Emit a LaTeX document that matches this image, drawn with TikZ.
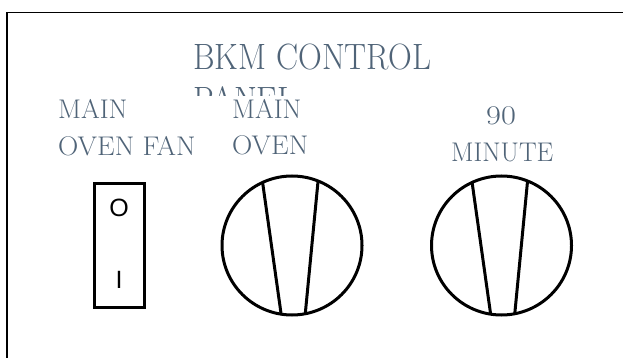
\documentclass[tikz,border=0pt]{standalone}
\usepackage{fontspec}
\usetikzlibrary{shapes.geometric}
\newfontfamily\swfont{Liberation Sans}
\definecolor{labelblue}{RGB}{80,100,120}
\tikzset{
  paneltitle/.style={anchor=base west, inner sep=0pt, text=labelblue, font=\fontsize{36.6}{40}\selectfont},
  panellabel/.style={anchor=base west, inner sep=0pt, text=labelblue, font=\fontsize{27}{30}\selectfont},
  dial/.style={ellipse, draw=black, line width=3pt, minimum width=140pt, minimum height=139pt, inner sep=0pt, outer sep=0pt},
  dialline/.style={draw=black, line width=3pt},
  switchbox/.style={rectangle, draw=black, line width=3pt, minimum width=50pt, minimum height=124pt, inner sep=0pt, outer sep=0pt},
  switchmark/.style={inner sep=0pt, font=\swfont\fontsize{25}{25}\selectfont},
  frame/.style={draw=black, line width=1.8pt}
}
\begin{document}
\begin{tikzpicture}[x=1pt,y=-1pt]
\useasboundingbox (0,0) rectangle (623,358);
\clip (0,0) rectangle (623,358);
% outer frame
\draw[frame] (7,12.5) rectangle (640,380);
% title
\node[paneltitle] (title) at (193,70) {\scalebox{0.90}[1]{BKM CONTROL}};
\begin{scope}
  \clip (180,80) rectangle (440,96);
  \node[paneltitle] (title2) at (193,113) {\scalebox{0.90}[1]{PANEL}};
\end{scope}
% labels
\node[panellabel] (l1a) at (58,119) {\scalebox{1.0}[1]{MAIN}};
\node[panellabel] (l1b) at (58,156) {\scalebox{1.04}[1]{OVEN FAN}};
\node[panellabel] (l2a) at (232,119) {\scalebox{1.0}[1]{MAIN}};
\node[panellabel] (l2b) at (232,155) {\scalebox{1.04}[1]{OVEN}};
\node[panellabel, anchor=base] (l3a) at (501,125) {\scalebox{1.2}[1]{90}};
\node[panellabel] (l3b) at (451,162) {\scalebox{0.98}[1]{MINUTE}};
% rocker switch
\node[switchbox] (sw) at (119,245) {};
\node[switchmark] (swo) at (119,208) {O};
\node[switchmark] (swi) at (119,280) {I};
% dials
\node[dial] (d1) at (292,245.5) {};
\draw[dialline] (d1.115.3) -- (d1.261.6);
\draw[dialline] (d1.68) -- (d1.281.2);
\node[dial] (d2) at (501.5,245.5) {};
\draw[dialline] (d2.115.3) -- (d2.261.6);
\draw[dialline] (d2.68) -- (d2.281.2);
\end{tikzpicture}
\end{document}
